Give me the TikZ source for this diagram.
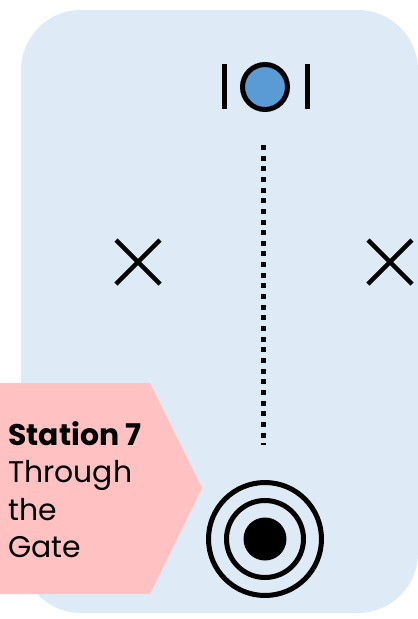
\documentclass[tikz,border=0pt]{standalone}
\usepackage{fontspec}
\setmainfont{Poppins}
\definecolor{panelblue}{RGB}{222,234,246}
\definecolor{markerblue}{RGB}{91,155,213}
\definecolor{tagpink}{RGB}{255,193,193}
\tikzset{
  stroke/.style={line width=0.1cm},
  cross/.style={line width=0.09cm},
  ring/.style={stroke, draw=black, circle, inner sep=0pt},
}
\begin{document}
\begin{tikzpicture}[x=0.02cm, y=-0.02cm]
\useasboundingbox (0,0) rectangle (418,619);
\def\cx{265}
\fill[panelblue, rounded corners=1.2cm] (21,10) rectangle (418,613);

\node[ring, fill=markerblue, minimum size=0.9cm] (goal) at (\cx,87) {};
\draw[stroke] (224,64) -- (224,109);
\draw[stroke] (307,64) -- (307,109);

\coordinate (pathtop) at (263,145);
\coordinate (pathend) at (263,445);
\draw[stroke, dash pattern=on 0.1cm off 0.113cm] (pathtop) -- (pathend);

\foreach \x in {138,390}{
  \draw[cross] (\x-22,240) -- (\x+22,284);
  \draw[cross] (\x-22,284) -- (\x+22,240);
}

\fill[tagpink] (0,383) -- (150,383) -- (202,488) -- (150,594) -- (0,594) -- cycle;
\node[anchor=north west, inner sep=0pt, align=left,
      font=\fontsize{17}{21.3}\selectfont] (station) at (8,421)
  {\textbf{Station 7}\\Through\\the\\Gate};

\node[ring, minimum size=2.26cm] (outer) at (\cx,539) {};
\node[ring, minimum size=1.54cm] (middle) at (\cx,539) {};
\node[circle, fill=black, inner sep=0pt, minimum size=0.86cm] (bull) at (\cx,539) {};
\end{tikzpicture}
\end{document}
